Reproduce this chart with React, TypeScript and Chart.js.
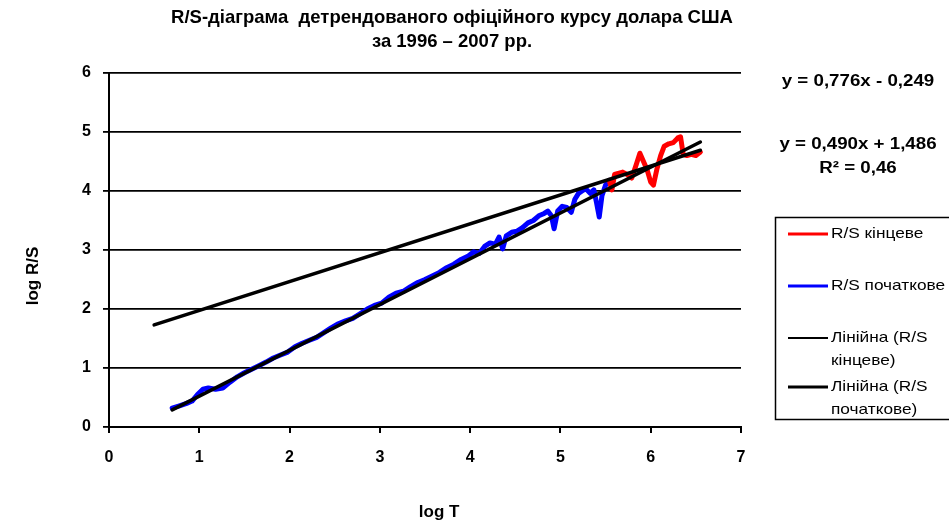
import React, { useEffect, useRef } from 'react';
import { Chart, registerables } from 'chart.js';

Chart.register(...registerables);

// ---- data ----
const BLUE_X = [0.70, 0.78, 0.86, 0.92, 0.98, 1.04, 1.10, 1.18, 1.26, 1.34, 1.42, 1.50, 1.58, 1.66, 1.74, 1.82, 1.90, 1.98, 2.06, 2.14, 2.22, 2.30, 2.38, 2.46, 2.54, 2.62, 2.70, 2.78, 2.86, 2.94, 3.02, 3.10, 3.18, 3.26, 3.34, 3.42, 3.50, 3.58, 3.66, 3.74, 3.82, 3.90, 3.98, 4.04, 4.10, 4.16, 4.22, 4.28, 4.32, 4.36, 4.40, 4.46, 4.52, 4.58, 4.64, 4.70, 4.76, 4.82, 4.86, 4.90, 4.93, 4.97, 5.02, 5.07, 5.12, 5.16, 5.20, 5.24, 5.28, 5.33, 5.37, 5.40, 5.43, 5.46, 5.50, 5.54];
const BLUE_Y = [0.32, 0.36, 0.40, 0.44, 0.55, 0.64, 0.66, 0.64, 0.66, 0.76, 0.85, 0.92, 0.98, 1.04, 1.10, 1.17, 1.22, 1.27, 1.36, 1.42, 1.47, 1.52, 1.60, 1.68, 1.75, 1.80, 1.84, 1.92, 2.00, 2.06, 2.10, 2.20, 2.27, 2.30, 2.38, 2.45, 2.50, 2.56, 2.62, 2.70, 2.76, 2.84, 2.90, 2.97, 2.94, 3.06, 3.12, 3.10, 3.22, 3.02, 3.24, 3.30, 3.32, 3.38, 3.46, 3.50, 3.58, 3.62, 3.66, 3.58, 3.36, 3.66, 3.74, 3.72, 3.64, 3.86, 3.96, 4.00, 4.04, 3.96, 4.02, 3.80, 3.56, 3.92, 4.10, 4.18];
const RED_X = [5.54, 5.57, 5.60, 5.64, 5.69, 5.74, 5.79, 5.84, 5.88, 5.92, 5.96, 6.00, 6.03, 6.07, 6.11, 6.15, 6.20, 6.25, 6.30, 6.33, 6.36, 6.40, 6.45, 6.50, 6.55];
const RED_Y = [4.18, 4.02, 4.28, 4.30, 4.32, 4.28, 4.22, 4.45, 4.64, 4.50, 4.36, 4.15, 4.10, 4.38, 4.60, 4.76, 4.80, 4.82, 4.90, 4.92, 4.62, 4.60, 4.62, 4.60, 4.66];
const TREND_RED_X = [0.5, 6.55];
const TREND_RED_Y = [1.73, 4.69];
const TREND_BLUE_X = [0.7, 6.55];
const TREND_BLUE_Y = [0.29, 4.83];
const X_TICKS = [0, 1, 2, 3, 4, 5, 6, 7];
const Y_TICKS = [0, 1, 2, 3, 4, 5, 6];

const TITLE_LINES = ['R/S-діаграма  детрендованого офіційного курсу долара США', 'за 1996 – 2007 рр.'];
const X_TITLE = 'log T';
const Y_TITLE = 'log R/S';
const SERIES_LABELS = ['R/S кінцеве', 'R/S початкове', 'Лінійна (R/S кінцеве)', 'Лінійна (R/S початкове)'];
const LEGEND_LINES = [['R/S кінцеве'], ['R/S початкове'], ['Лінійна (R/S', 'кінцеве)'], ['Лінійна (R/S', 'початкове)']];
const EQUATIONS = ['y = 0,776x - 0,249', 'y = 0,490x + 1,486', 'R² = 0,46'];

const FONT = '"Liberation Sans", Arial, sans-serif';
const NB = '\u00a0';

const toPoints = (xs: number[], ys: number[]) => xs.map((x, i) => ({ x, y: ys[i] }));

const boxLegendPlugin = {
  id: 'boxLegend',
  afterDraw(chart: any) {
    const ctx = chart.ctx as CanvasRenderingContext2D;
    ctx.save();
    // equations (text slightly widened like the source picture)
    ctx.fillStyle = '#000';
    ctx.font = `bold 16px ${FONT}`;
    ctx.textAlign = 'center';
    ctx.textBaseline = 'middle';
    const eqY = [82, 145, 169];
    const sx = 1.17;
    EQUATIONS.forEach((t, i) => {
      ctx.save();
      ctx.translate(858, eqY[i]);
      ctx.scale(sx, 1);
      ctx.fillText(t, 0, 0);
      ctx.restore();
    });

    // legend box
    ctx.strokeStyle = '#000';
    ctx.lineWidth = 1.5;
    ctx.strokeRect(775.5, 217.5, 220, 202);
    const rowY = [234, 286, 338, 387];
    ctx.font = `15px ${FONT}`;
    ctx.textAlign = 'left';
    chart.data.datasets.forEach((ds: any, i: number) => {
      const y = rowY[i];
      ctx.beginPath();
      ctx.strokeStyle = ds.borderColor;
      ctx.lineWidth = i === 2 ? 2 : 3;
      ctx.moveTo(788, y);
      ctx.lineTo(828, y);
      ctx.stroke();
      ctx.fillStyle = '#000';
      LEGEND_LINES[i].forEach((line, j) => {
        ctx.save();
        ctx.translate(831, y + j * 23);
        ctx.scale(1.15, 1);
        ctx.fillText(line, 0, 0);
        ctx.restore();
      });
    });
    ctx.restore();
  },
};

export default function App() {
  const ref = useRef<HTMLCanvasElement | null>(null);
  useEffect(() => {
    if (!ref.current) return;
    Chart.defaults.font.family = FONT;
    const chart = new Chart(ref.current, {
      type: 'scatter',
      data: {
        datasets: [
          { label: SERIES_LABELS[0], data: toPoints(RED_X, RED_Y), showLine: true, borderColor: '#ff0000', backgroundColor: '#ff0000', borderWidth: 5, pointRadius: 0, borderJoinStyle: 'round', borderCapStyle: 'round', order: 2 },
          { label: SERIES_LABELS[1], data: toPoints(BLUE_X, BLUE_Y), showLine: true, borderColor: '#0000ff', backgroundColor: '#0000ff', borderWidth: 5, pointRadius: 0, borderJoinStyle: 'round', borderCapStyle: 'round', order: 2 },
          { label: SERIES_LABELS[2], data: toPoints(TREND_RED_X, TREND_RED_Y), showLine: true, borderColor: '#000000', backgroundColor: '#000000', borderWidth: 3.5, pointRadius: 0, borderCapStyle: 'round', order: 1 },
          { label: SERIES_LABELS[3], data: toPoints(TREND_BLUE_X, TREND_BLUE_Y), showLine: true, borderColor: '#000000', backgroundColor: '#000000', borderWidth: 3.5, pointRadius: 0, borderCapStyle: 'round', order: 0 },
        ],
      },
      options: {
        responsive: false,
        animation: false,
        devicePixelRatio: 1,
        layout: { padding: { left: 0, top: 0, right: 45, bottom: 0 } },
        plugins: {
          legend: { display: false },
          tooltip: { enabled: false },
          title: {
            display: true,
            text: TITLE_LINES,
            color: '#000',
            font: { size: 18.5, weight: 'bold', family: FONT, lineHeight: '24px' },
            padding: { top: 6, bottom: 19 },
          },
        },
        scales: {
          x: {
            type: 'linear',
            min: 0,
            max: 7,
            afterBuildTicks: (s: any) => { s.ticks = X_TICKS.map((v) => ({ value: v })); },
            afterFit: (s: any) => { s.height = 97; },
            ticks: { color: '#000', font: { size: 16, weight: 'bold' }, padding: 15 },
            grid: { drawOnChartArea: false, drawTicks: true, tickLength: 6, color: '#000', lineWidth: 2 },
            border: { display: true, color: '#000', width: 2 },
            title: { display: true, text: NB.repeat(6) + X_TITLE, color: '#000', font: { size: 17, weight: 'bold' }, padding: { top: 0, bottom: 1 } },
          },
          y: {
            type: 'linear',
            min: 0,
            max: 6,
            afterBuildTicks: (s: any) => { s.ticks = Y_TICKS.map((v) => ({ value: v })); },
            afterFit: (s: any) => { s.width = 109; },
            ticks: { color: '#000', font: { size: 16, weight: 'bold' }, padding: 12 },
            grid: { drawOnChartArea: true, drawTicks: true, tickLength: 6, color: '#000', lineWidth: 1.8 },
            border: { display: true, color: '#000', width: 2 },
            title: { display: true, text: Y_TITLE + NB.repeat(11), color: '#000', font: { size: 17, weight: 'bold' }, padding: { top: 23, bottom: 0 } },
          },
          yR: {
            type: 'linear',
            position: 'right',
            display: true,
            ticks: { display: false },
            grid: { display: false, drawTicks: false },
            border: { display: false },
            afterFit: (s: any) => { s.width = 163; },
          },
        },
      },
      plugins: [boxLegendPlugin],
    } as any);
    return () => chart.destroy();
  }, []);
  return (
    <div style={{ position: 'fixed', left: 0, top: 0, width: 949, height: 524, background: '#fff' }}>
      <canvas ref={ref} width={949} height={524} />
    </div>
  );
}
